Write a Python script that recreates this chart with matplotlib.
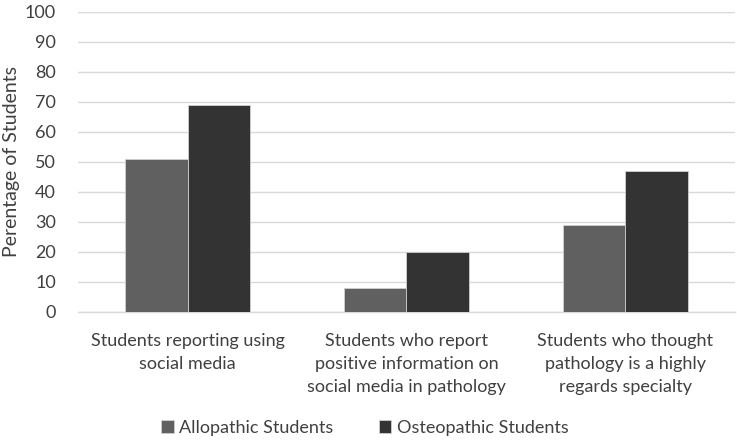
import numpy as np
import matplotlib
matplotlib.use("Agg")
import matplotlib.pyplot as plt

categories = ["Students reporting using\nsocial media",
              "Students who report\npositive information on\nsocial media in pathology",
              "Students who thought\npathology is a highly\nregards specialty"]
allopathic = [51, 8, 29]
osteopathic = [69, 20, 47]
series_names = ["Allopathic Students", "Osteopathic Students"]
yticks = np.arange(0, 101, 10)

plt.rcParams['font.family'] = ['Lato', 'DejaVu Sans']
text_col = '#404040'

fig = plt.figure(figsize=(7.37, 4.43), dpi=100)
ax = fig.add_axes([0.106, 0.296, 0.891, 0.677])

x = np.arange(len(categories))
w = 0.287
ax.bar(x - w/2, allopathic, w, color='#606060', edgecolor='#d0d0d0', linewidth=0.6,
       label=series_names[0], zorder=3)
ax.bar(x + w/2, osteopathic, w, color='#333333', edgecolor='#d0d0d0', linewidth=0.6,
       label=series_names[1], zorder=3)

ax.set_xlim(-0.5, 2.5)
ax.set_ylim(0, 100)
ax.set_yticks(yticks)
ax.set_xticks(x)
ax.set_xticklabels(categories, fontsize=13, color=text_col, linespacing=1.55)
ax.tick_params(axis='y', labelsize=13, colors=text_col, length=0, pad=16)
ax.tick_params(axis='x', length=0, pad=15)
ax.grid(axis='y', color='#d9d9d9', linewidth=1, zorder=0)
for s in ['top', 'right', 'left']:
    ax.spines[s].set_visible(False)
ax.spines['bottom'].set_color('#d9d9d9')
ax.spines['bottom'].set_linewidth(1)

ax.set_ylabel("Perentage of Students", fontsize=14, color=text_col)
ax.yaxis.set_label_coords(-0.088, 0.5)

leg = fig.legend(loc='center', bbox_to_anchor=(0.495, 0.034), ncol=2, frameon=False,
                 fontsize=13, handlelength=0.7, handleheight=0.7, handletextpad=0.3,
                 columnspacing=2.5)
for t in leg.get_texts():
    t.set_color(text_col)

fig.savefig("out.png", dpi=100)
